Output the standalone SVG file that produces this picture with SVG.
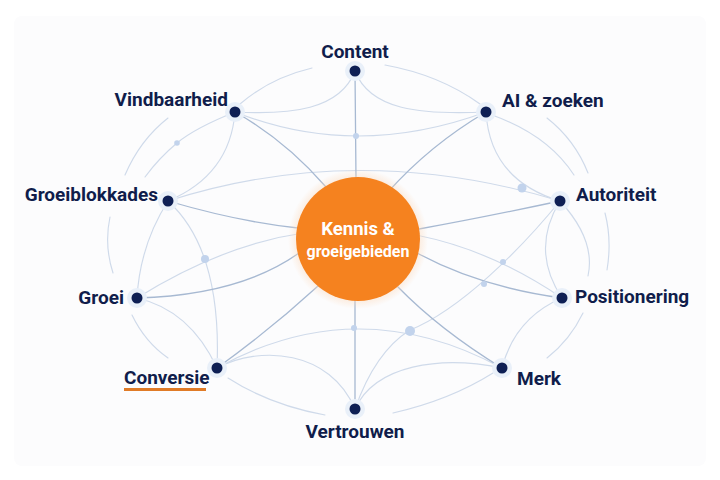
<svg xmlns="http://www.w3.org/2000/svg" width="720" height="480" viewBox="0 0 720 480">
<defs>
<style>
.ln{fill:none;stroke:#cfdaea;stroke-width:1.15;stroke-linecap:round}
.sp{fill:none;stroke:#a7b9d2;stroke-width:1.3;stroke-linecap:round}
.halo{fill:#e9f0f9}
.dot{fill:#0e1f54}
.jn{fill:#c2d3ec}
.lbl{font-family:Roboto,"Liberation Sans",sans-serif;font-weight:700;font-size:19px;fill:#101d4b}
.ctr{font-family:Roboto,"Liberation Sans",sans-serif;font-weight:700;fill:#ffffff;text-anchor:middle}
</style>
<radialGradient id="glow" cx="50%" cy="50%" r="50%">
<stop offset="80%" stop-color="#fbd9bb" stop-opacity="0.7"/>
<stop offset="100%" stop-color="#fbd9bb" stop-opacity="0"/>
</radialGradient>
</defs>
<rect x="0" y="0" width="720" height="480" fill="#ffffff"/>
<rect x="14" y="16" width="692" height="450" rx="8" fill="#fcfcfd"/>
<g id="connectors">
<path class="ln" d="M240,104 Q270,78 312,68"/>
<path class="ln" d="M385,65 Q440,75 480,104"/>
<path class="ln" d="M547,118 Q575,140 588,173"/>
<path class="ln" d="M605,213 Q612,240 607,270"/>
<path class="ln" d="M583,313 Q570,340 547,358"/>
<path class="ln" d="M493,373 Q450,400 393,413"/>
<path class="ln" d="M325,415 Q270,405 228,378"/>
<path class="ln" d="M168,358 Q145,342 132,315"/>
<path class="ln" d="M113,273 Q104,245 110,217"/>
<path class="ln" d="M125,175 Q140,140 168,118"/>
<path class="ln" d="M355,71 C340,110 290,115 235,112"/>
<path class="ln" d="M355,71 C370,110 420,115 486,112"/>
<path class="ln" d="M235,112 Q355,160 486,112"/>
<path class="ln" d="M235,112 Q230,175 168,201"/>
<path class="ln" d="M235,112 Q195,128 177,143 T145,177"/>
<path class="ln" d="M168,201 Q358,140 560,201"/>
<path class="ln" d="M486,112 Q490,180 560,201"/>
<path class="ln" d="M492,115 Q548,135 574,175"/>
<path class="ln" d="M560,201 Q530,250 562,298"/>
<path class="ln" d="M560,201 Q596,240 588,276"/>
<path class="ln" d="M560,201 C520,250 460,310 410,330 Q375,352 355,409"/>
<path class="ln" d="M562,298 Q358,160 137,298"/>
<path class="ln" d="M168,201 Q140,245 137,298"/>
<path class="ln" d="M168,201 Q222,250 217,368"/>
<path class="ln" d="M137,298 Q190,310 217,368"/>
<path class="ln" d="M217,368 Q358,290 502,368"/>
<path class="ln" d="M217,368 C260,345 330,350 355,409"/>
<path class="ln" d="M355,409 C375,365 440,355 502,368"/>
<path class="ln" d="M502,368 Q515,318 562,298"/>
<path class="sp" d="M355,71 L356,180"/>
<path class="sp" d="M235,112 Q285,140 326,187"/>
<path class="sp" d="M486,112 Q430,145 388,192"/>
<path class="sp" d="M168,201 Q240,222 298,228"/>
<path class="sp" d="M560,201 Q480,218 419,229"/>
<path class="sp" d="M137,298 Q240,295 299,253"/>
<path class="sp" d="M562,298 Q480,287 417,253"/>
<path class="sp" d="M217,368 Q270,330 318,286"/>
<path class="sp" d="M502,368 Q440,330 398,287"/>
<path class="sp" d="M355,409 L355,300"/>
<circle class="jn" cx="356" cy="136" r="3"/>
<circle class="jn" cx="177" cy="143" r="2.8"/>
<circle class="jn" cx="522" cy="188" r="4.5"/>
<circle class="jn" cx="205" cy="259" r="4"/>
<circle class="jn" cx="503" cy="262" r="3"/>
<circle class="jn" cx="484" cy="284" r="3"/>
<circle class="jn" cx="410" cy="331" r="5"/>
<circle class="jn" cx="354" cy="328" r="3"/>
</g>
<g id="centre">
<circle cx="358" cy="239" r="70" fill="url(#glow)"/>
<circle cx="358" cy="239" r="62" fill="#f5821f"/>
<text class="ctr" x="358" y="235" font-size="18.5">Kennis &amp;</text>
<text class="ctr" x="358" y="257" font-size="16">groeigebieden</text>
</g>
<g id="n-content"><circle class="halo" cx="355" cy="71" r="10"/><circle class="dot" cx="355" cy="71" r="5.5"/><text class="lbl" x="355" y="58" text-anchor="middle">Content</text></g>
<g id="n-vindbaarheid"><circle class="halo" cx="235" cy="112" r="10"/><circle class="dot" cx="235" cy="112" r="5.5"/><text class="lbl" x="228" y="106" text-anchor="end">Vindbaarheid</text></g>
<g id="n-ai"><circle class="halo" cx="486" cy="112" r="10"/><circle class="dot" cx="486" cy="112" r="5.5"/><text class="lbl" x="502" y="107">AI &amp; zoeken</text></g>
<g id="n-groeiblokkades"><circle class="halo" cx="168" cy="201" r="10"/><circle class="dot" cx="168" cy="201" r="5.5"/><text class="lbl" x="158" y="201" text-anchor="end">Groeiblokkades</text></g>
<g id="n-autoriteit"><circle class="halo" cx="560" cy="201" r="10"/><circle class="dot" cx="560" cy="201" r="5.5"/><text class="lbl" x="576" y="201">Autoriteit</text></g>
<g id="n-groei"><circle class="halo" cx="137" cy="298" r="10"/><circle class="dot" cx="137" cy="298" r="5.5"/><text class="lbl" x="124" y="304" text-anchor="end">Groei</text></g>
<g id="n-positionering"><circle class="halo" cx="562" cy="298" r="10"/><circle class="dot" cx="562" cy="298" r="5.5"/><text class="lbl" x="575" y="303">Positionering</text></g>
<g id="n-conversie"><circle class="halo" cx="217" cy="368" r="10"/><circle class="dot" cx="217" cy="368" r="5.5"/><text class="lbl" x="124" y="384">Conversie</text><rect x="124" y="388" width="82" height="3" fill="#e07b27"/></g>
<g id="n-merk"><circle class="halo" cx="502" cy="368" r="10"/><circle class="dot" cx="502" cy="368" r="5.5"/><text class="lbl" x="517" y="385">Merk</text></g>
<g id="n-vertrouwen"><circle class="halo" cx="355" cy="409" r="10"/><circle class="dot" cx="355" cy="409" r="5.5"/><text class="lbl" x="355" y="438" text-anchor="middle">Vertrouwen</text></g>
</svg>
